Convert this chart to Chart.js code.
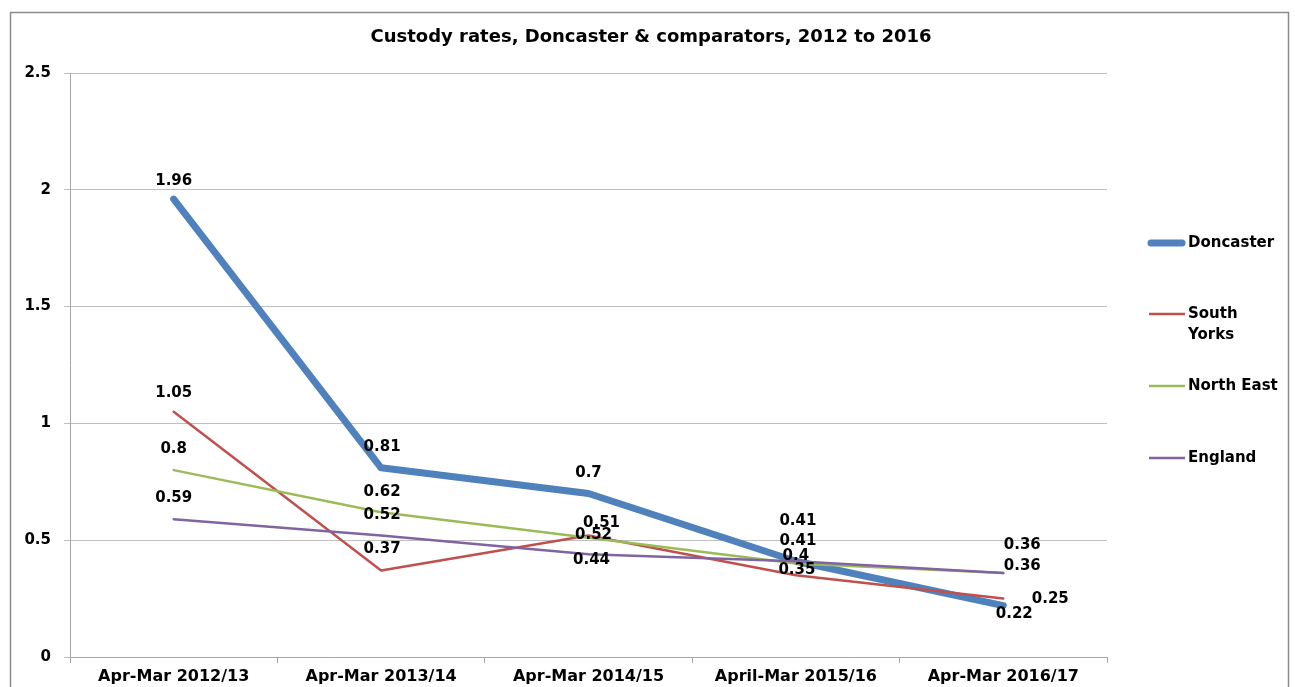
<!DOCTYPE html>
<html><head><meta charset="utf-8">
<script src="https://cdn.jsdelivr.net/npm/chart.js@4.4.0/dist/chart.umd.min.js"></script>
<style>html,body{margin:0;padding:0;background:#fff}#wrap{width:1295px;height:687px;position:relative}</style>
</head><body><div id="wrap"><canvas id="c" width="1295" height="687"></canvas></div>
<script>
const categories = ["Apr-Mar 2012/13","Apr-Mar 2013/14","Apr-Mar 2014/15","April-Mar 2015/16","Apr-Mar 2016/17"];
const doncaster = [1.96, 0.81, 0.7, 0.41, 0.22];
const southYorks = [1.05, 0.37, 0.52, 0.35, 0.25];
const northEast = [0.8, 0.62, 0.51, 0.4, 0.36];
const england = [0.59, 0.52, 0.44, 0.41, 0.36];
const yTicks = [0, 0.5, 1, 1.5, 2, 2.5];
const seriesNames = ["Doncaster", "South\nYorks", "North East", "England"];

const FONT = "'DejaVu Sans', sans-serif";
// label offsets (style) per dataset/point [dx, dy]
const labelOffsets = [
  [[0,-18],[1,-21],[0,-20],[2,-40],[11,9]],
  [[0,-19],[1,-21],[5,0],[1,-5],[47,1]],
  [[0,-21],[1,-20],[13,-15],[0,-7],[19,-28]],
  [[0,-21],[1,-20],[3,6],[2,-20],[19,-7]]
];

const labelPlugin = {
  id: 'labels',
  afterDatasetsDraw(chart) {
    const ctx = chart.ctx;
    ctx.save();
    ctx.font = "bold 15px " + FONT;
    ctx.fillStyle = "#000";
    ctx.textAlign = "center";
    ctx.textBaseline = "middle";
    chart.data.datasets.forEach((ds, i) => {
      const meta = chart.getDatasetMeta(i);
      meta.data.forEach((pt, j) => {
        const o = labelOffsets[i][j];
        ctx.fillText(String(ds.data[j]), pt.x + o[0], pt.y + o[1]);
      });
    });
    ctx.restore();
  },
  afterDraw(chart) {
    const ctx = chart.ctx;
    ctx.save();
    // frame
    ctx.strokeStyle = "#8c8c8c";
    ctx.lineWidth = 1.5;
    ctx.strokeRect(10.5, 12.5, 1278, 700);
    // title
    ctx.font = "bold 18px " + FONT;
    ctx.fillStyle = "#000";
    ctx.textAlign = "center";
    ctx.textBaseline = "middle";
    ctx.fillText("Custody rates, Doncaster & comparators, 2012 to 2016", 651, 37);
    // legend
    const ys = [243, 314, 386, 458];
    ctx.textAlign = "left";
    ctx.font = "bold 15px " + FONT;
    chart.data.datasets.forEach((ds, i) => {
      const y = ys[i];
      ctx.strokeStyle = ds.borderColor;
      ctx.lineWidth = ds.borderWidth;
      ctx.lineCap = i === 0 ? "round" : "butt";
      ctx.beginPath();
      ctx.moveTo(i === 0 ? 1151 : 1149, y);
      ctx.lineTo(i === 0 ? 1182 : 1185, y);
      ctx.stroke();
      const lines = seriesNames[i].split("\n");
      lines.forEach((t, k) => ctx.fillText(t, 1188, y + k * 21));
    });
    ctx.restore();
  }
};

const mk = (label, data, color, width, order) => ({
  label, data, borderColor: color, backgroundColor: color, borderWidth: width,
  pointRadius: 0, pointHoverRadius: 0, tension: 0, order,
  borderCapStyle: 'round', borderJoinStyle: 'round', fill: false
});

new Chart(document.getElementById('c'), {
  type: 'line',
  data: {
    labels: categories,
    datasets: [
      mk("Doncaster", doncaster, "#4F81BD", 7, 3),
      mk("South Yorks", southYorks, "#C0504D", 2.5, 2),
      mk("North East", northEast, "#9BBB59", 2.5, 1),
      mk("England", england, "#8064A2", 2.5, 0)
    ]
  },
  options: {
    responsive: false,
    animation: false,
    layout: { padding: { top: 73, right: 188, left: 0, bottom: 0 } },
    plugins: { legend: { display: false }, title: { display: false }, tooltip: { enabled: false } },
    scales: {
      x: {
        offset: true,
        afterFit: s => { s.height = 30; },
        grid: { offset: true, drawOnChartArea: false, drawTicks: true, tickLength: 6, color: "#a6a6a6" },
        border: { display: true, color: "#a6a6a6", width: 1 },
        ticks: { color: "#000", font: { family: FONT, weight: "bold", size: 16 }, padding: 4, maxRotation: 0, autoSkip: false }
      },
      y: {
        min: 0, max: 2.5,
        afterFit: s => { s.width = 70; },
        afterBuildTicks: s => { s.ticks = yTicks.map(v => ({ value: v })); },
        grid: { color: "#bfbfbf", tickLength: 6, drawTicks: true },
        border: { display: true, color: "#a6a6a6", width: 1 },
        ticks: { color: "#000", font: { family: FONT, weight: "bold", size: 15 }, padding: 13, callback: v => String(v) }
      }
    }
  },
  plugins: [labelPlugin]
});
</script></body></html>
